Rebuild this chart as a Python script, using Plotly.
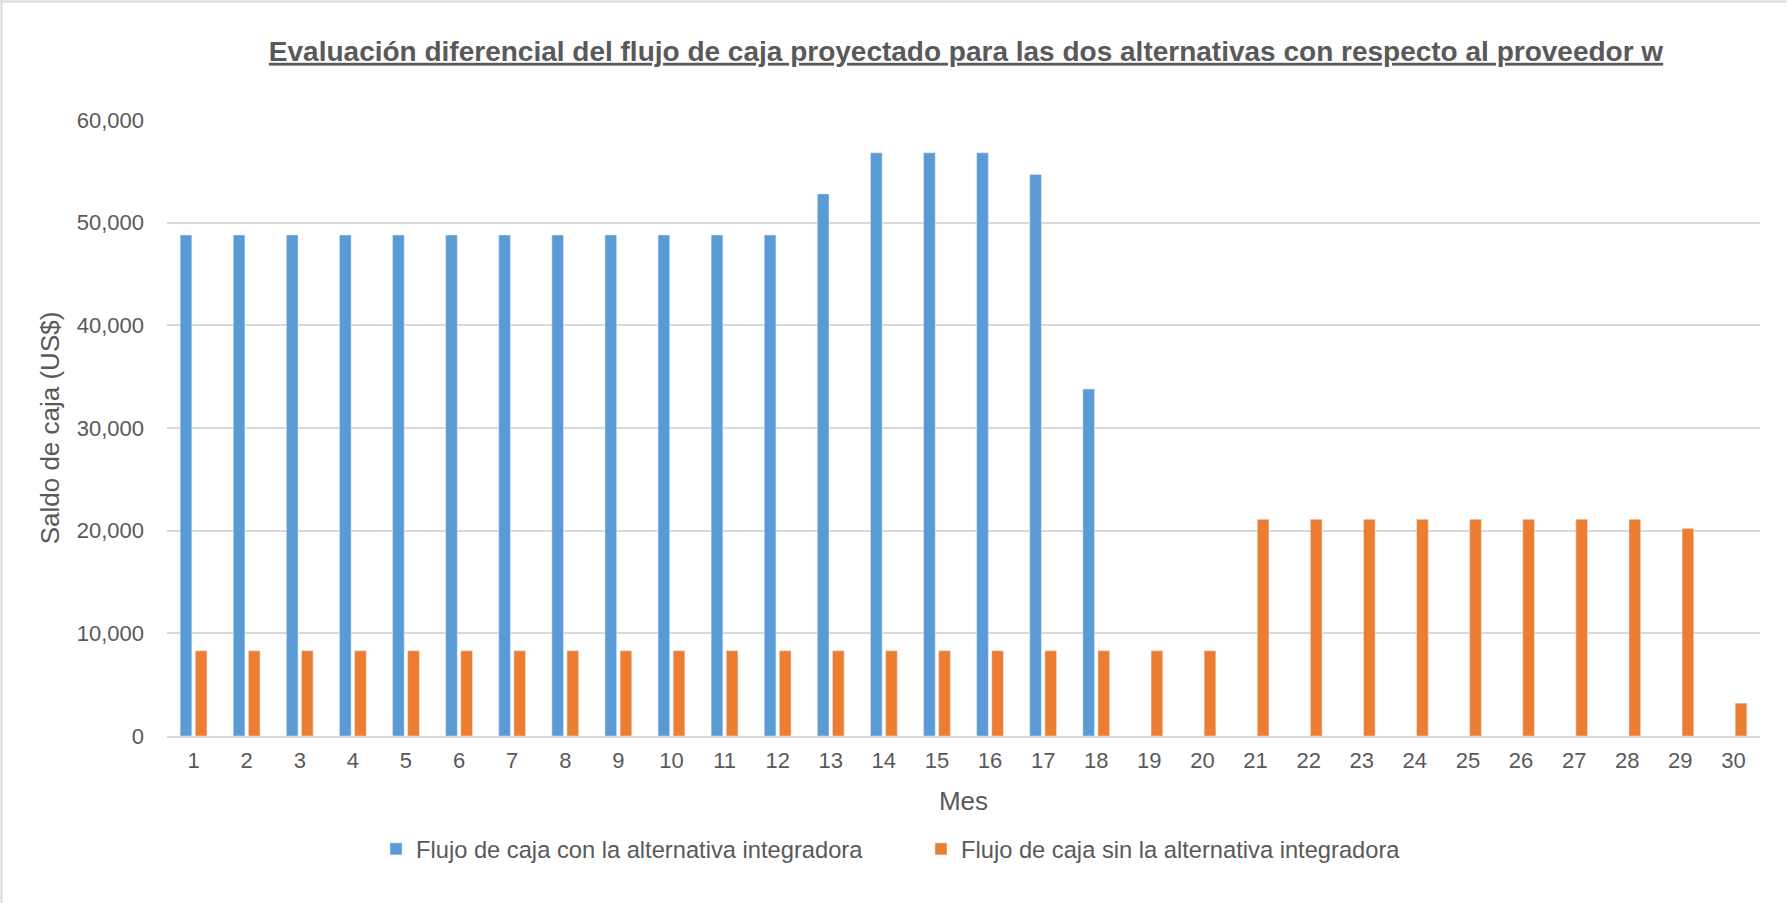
import plotly.graph_objects as go

meses = [str(i) for i in range(1, 31)]
con_integradora = [48800]*12 + [52800, 56800, 56800, 56800, 54700, 33800] + [None]*12
sin_integradora = [8300]*20 + [21100]*8 + [20200, 3200]

serie_con = "Flujo de caja con la alternativa integradora"
serie_sin = "Flujo de caja sin la alternativa integradora"
titulo = "Evaluación diferencial del flujo de caja proyectado para las dos alternativas con respecto al proveedor w"

W, H = 1788, 903
L, R, T, B = 167, 28, 120, 167
pw, ph = W - L - R, H - T - B
FONT = "Liberation Sans, Arial, sans-serif"
GRAY = "#595959"

def px(x):
    return (x - L) / pw

def py(y):
    return (H - B - y) / ph

fig = go.Figure()
fig.add_trace(go.Bar(x=meses, y=con_integradora, name=serie_con, marker_color="#5B9BD5"))
fig.add_trace(go.Bar(x=meses, y=sin_integradora, name=serie_sin, marker_color="#ED7D31"))

fig.update_layout(
    width=W, height=H,
    margin=dict(l=L, r=R, t=T, b=B, autoexpand=False),
    paper_bgcolor="white", plot_bgcolor="white",
    font=dict(family=FONT, color=GRAY, size=22),
    barmode="group", bargap=0.43, bargroupgap=0.23,
    title=dict(text="<b><u>" + titulo + "</u></b>", xref="container", x=966 / W, xanchor="center",
               y=1 - 51 / H, yanchor="middle", font=dict(size=28, color=GRAY, family=FONT)),
    xaxis=dict(type="category", showgrid=False, ticks="", showline=True, linecolor="#D9D9D9",
               linewidth=1.5, tickfont=dict(size=22, color=GRAY), ticklabelstandoff=4,
               title=dict(text="Mes", font=dict(size=26, color=GRAY), standoff=20)),
    yaxis=dict(range=[0, 60000], dtick=10000, tickformat=",", showgrid=True, gridcolor="#D9D9D9",
               gridwidth=1.5, zeroline=False, ticks="", tickfont=dict(size=22, color=GRAY),
               ticklabelstandoff=22,
               title=dict(text="Saldo de caja (US$)", font=dict(size=26, color=GRAY), standoff=9)),
    legend=dict(orientation="h", x=px(376), xanchor="left", y=py(849), yanchor="middle",
                font=dict(size=23.7, color=GRAY), entrywidth=500, traceorder="normal"),
    showlegend=True,
)

fig.add_shape(type="line", xref="paper", yref="paper", x0=px(1), x1=px(1787), y0=py(1.5), y1=py(1.5),
              line=dict(color="#D9D9D9", width=2))
fig.add_shape(type="line", xref="paper", yref="paper", x0=px(1.5), x1=px(1.5), y0=py(0), y1=py(903),
              line=dict(color="#D9D9D9", width=2))

fig.write_html("out.html", config={"displayModeBar": False},
               post_script="document.body.style.margin='0';document.body.style.overflow='hidden';")
